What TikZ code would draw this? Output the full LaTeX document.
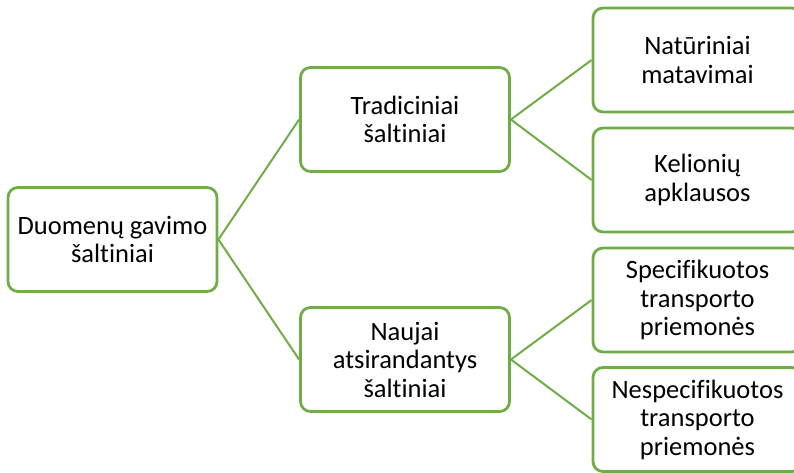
\documentclass[tikz,border=0pt]{standalone}
\usepackage{fontspec}
\setmainfont[Ligatures=NoCommon]{Carlito}
\definecolor{boxgreen}{HTML}{70AD47}
\begin{document}
\begin{tikzpicture}[x=1pt,y=-1pt,
  box/.style={draw=boxgreen, line width=2.8pt, rounded corners=10pt, fill=white,
    minimum width=209pt, minimum height=104pt, align=center, inner sep=2pt,
    font=\fontsize{26.5}{28.5}\selectfont, text=black},
  link/.style={draw=boxgreen, line width=2pt}]
\useasboundingbox (0,0) rectangle (794,472);
\node[box] (root) at (112.5,239.5) {Duomenų gavimo\\šaltiniai};
\node[box] (trad) at (405,119.5) {Tradiciniai\\šaltiniai};
\node[box] (nauj) at (405,359.5) {Naujai\\atsirandantys\\šaltiniai};
\node[box] (nat) at (697.5,60) {Natūriniai\\matavimai};
\node[box] (kel) at (697.5,180) {Kelionių\\apklausos};
\node[box] (spec) at (697.5,300) {Specifikuotos\\transporto\\priemonės};
\node[box] (nesp) at (697.5,419.5) {Nespecifikuotos\\transporto\\priemonės};
\draw[link] (root.east) -- (trad.west);
\draw[link] (root.east) -- (nauj.west);
\draw[link] (trad.east) -- (nat.west);
\draw[link] (trad.east) -- (kel.west);
\draw[link] (nauj.east) -- (spec.west);
\draw[link] (nauj.east) -- (nesp.west);
\end{tikzpicture}
\end{document}
